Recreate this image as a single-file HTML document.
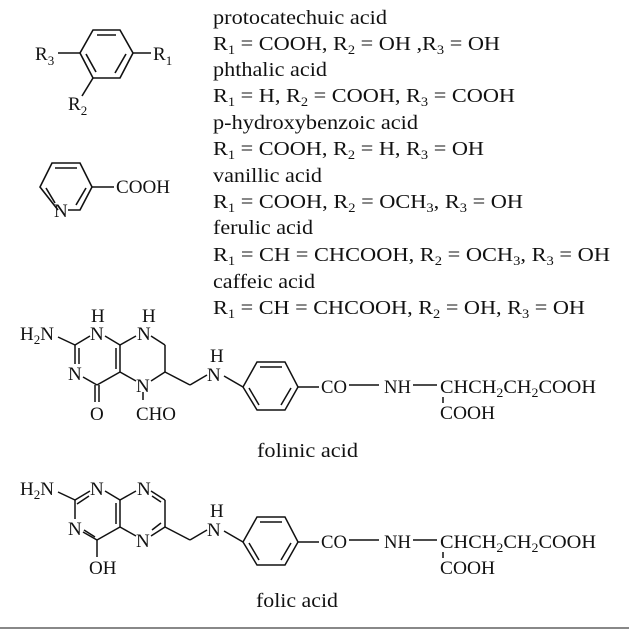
<!DOCTYPE html>
<html><head><meta charset="utf-8"><style>
html,body{margin:0;padding:0;background:#fff}
svg{display:block}
text{font-family:"Liberation Serif",serif;fill:#111}
</style></head><body>
<svg width="629" height="629" viewBox="0 0 629 629" xmlns="http://www.w3.org/2000/svg">
<g stroke="#111" stroke-width="1.6" fill="none">
<polygon points="93,30 120,30 133,53 120,78 93,78 80,53"/>
<line x1="97" y1="35" x2="116" y2="35"/>
<line x1="126" y1="54" x2="115" y2="73"/>
<line x1="86" y1="54" x2="96" y2="72"/>
<line x1="133" y1="53" x2="151" y2="53"/>
<line x1="58" y1="53" x2="80" y2="53"/>
<line x1="93" y1="78" x2="82" y2="96"/>
<polyline points="58,210 40,187 52,163 80,163 92,187 80,210 68,210"/>
<line x1="55" y1="168" x2="77" y2="168"/>
<line x1="86" y1="188" x2="76" y2="205"/>
<line x1="46" y1="188" x2="55" y2="203"/>
<line x1="92" y1="187" x2="114" y2="187"/>
</g>
<g font-size="19">
<text x="35" y="60">R<tspan font-size="13" dy="5">3</tspan></text>
<text x="153" y="60">R<tspan font-size="13" dy="5">1</tspan></text>
<text x="68" y="110">R<tspan font-size="13" dy="5">2</tspan></text>
<text x="54" y="217">N</text>
<text x="116" y="193" textLength="54" lengthAdjust="spacingAndGlyphs">COOH</text>
</g>
<g font-size="20">
<text x="213" y="24" textLength="174" lengthAdjust="spacingAndGlyphs">protocatechuic acid</text>
<text x="213" y="50" textLength="287" lengthAdjust="spacingAndGlyphs">R<tspan font-size="13" dy="4">1</tspan><tspan dy="-4"> = COOH, R</tspan><tspan font-size="13" dy="4">2</tspan><tspan dy="-4"> = OH ,R</tspan><tspan font-size="13" dy="4">3</tspan><tspan dy="-4"> = OH</tspan></text>
<text x="213" y="76" textLength="114" lengthAdjust="spacingAndGlyphs">phthalic acid</text>
<text x="213" y="102" textLength="302" lengthAdjust="spacingAndGlyphs">R<tspan font-size="13" dy="4">1</tspan><tspan dy="-4"> = H, R</tspan><tspan font-size="13" dy="4">2</tspan><tspan dy="-4"> = COOH, R</tspan><tspan font-size="13" dy="4">3</tspan><tspan dy="-4"> = COOH</tspan></text>
<text x="213" y="129" textLength="205" lengthAdjust="spacingAndGlyphs">p-hydroxybenzoic acid</text>
<text x="213" y="155" textLength="271" lengthAdjust="spacingAndGlyphs">R<tspan font-size="13" dy="4">1</tspan><tspan dy="-4"> = COOH, R</tspan><tspan font-size="13" dy="4">2</tspan><tspan dy="-4"> = H, R</tspan><tspan font-size="13" dy="4">3</tspan><tspan dy="-4"> = OH</tspan></text>
<text x="213" y="182" textLength="109" lengthAdjust="spacingAndGlyphs">vanillic acid</text>
<text x="213" y="208" textLength="310" lengthAdjust="spacingAndGlyphs">R<tspan font-size="13" dy="4">1</tspan><tspan dy="-4"> = COOH, R</tspan><tspan font-size="13" dy="4">2</tspan><tspan dy="-4"> = OCH</tspan><tspan font-size="13" dy="4">3</tspan><tspan dy="-4">, R</tspan><tspan font-size="13" dy="4">3</tspan><tspan dy="-4"> = OH</tspan></text>
<text x="213" y="234" textLength="100" lengthAdjust="spacingAndGlyphs">ferulic acid</text>
<text x="213" y="261" textLength="397" lengthAdjust="spacingAndGlyphs">R<tspan font-size="13" dy="4">1</tspan><tspan dy="-4"> = CH = CHCOOH, R</tspan><tspan font-size="13" dy="4">2</tspan><tspan dy="-4"> = OCH</tspan><tspan font-size="13" dy="4">3</tspan><tspan dy="-4">, R</tspan><tspan font-size="13" dy="4">3</tspan><tspan dy="-4"> = OH</tspan></text>
<text x="213" y="288" textLength="102" lengthAdjust="spacingAndGlyphs">caffeic acid</text>
<text x="213" y="314" textLength="372" lengthAdjust="spacingAndGlyphs">R<tspan font-size="13" dy="4">1</tspan><tspan dy="-4"> = CH = CHCOOH, R</tspan><tspan font-size="13" dy="4">2</tspan><tspan dy="-4"> = OH, R</tspan><tspan font-size="13" dy="4">3</tspan><tspan dy="-4"> = OH</tspan></text>
</g>
<g stroke="#111" stroke-width="1.5" fill="none">
<line x1="58" y1="337" x2="75" y2="345"/>
<line x1="75" y1="345" x2="90" y2="336"/>
<line x1="105" y1="336" x2="120" y2="345"/>
<line x1="120" y1="345" x2="136" y2="336"/>
<line x1="151" y1="336" x2="165" y2="345"/>
<line x1="165" y1="345" x2="165" y2="372"/>
<line x1="165" y1="372" x2="151" y2="381"/>
<line x1="136" y1="381" x2="120" y2="372"/>
<line x1="120" y1="345" x2="120" y2="372"/>
<line x1="116" y1="348" x2="116" y2="369"/>
<line x1="120" y1="372" x2="97" y2="385"/>
<line x1="97" y1="385" x2="83" y2="377"/>
<line x1="75" y1="345" x2="75" y2="364"/>
<line x1="79" y1="348" x2="79" y2="364"/>
<line x1="95" y1="385" x2="95" y2="402"/>
<line x1="99" y1="385" x2="99" y2="402"/>
<line x1="143" y1="392" x2="143" y2="400"/>
<line x1="165" y1="372" x2="190" y2="385"/>
<line x1="190" y1="385" x2="207" y2="375"/>
<line x1="224" y1="376" x2="243" y2="387"/>
<polygon points="243,387 257,362 285,362 298,387 285,410 257,410"/>
<line x1="260" y1="367" x2="282" y2="367"/>
<line x1="291" y1="388" x2="281" y2="405"/>
<line x1="249" y1="388" x2="259" y2="405"/>
<line x1="298" y1="387" x2="319" y2="387"/>
<line x1="349" y1="385" x2="379" y2="385"/>
<line x1="413" y1="385" x2="437" y2="385"/>
<line x1="443" y1="397" x2="443" y2="403"/>
</g>
<g font-size="19">
<text x="20" y="340">H<tspan font-size="13" dy="4">2</tspan><tspan dy="-4">N</tspan></text>
<text x="91" y="322">H</text><text x="90" y="340">N</text>
<text x="142" y="322">H</text><text x="137" y="340">N</text>
<text x="68" y="380">N</text>
<text x="136" y="392">N</text>
<text x="90" y="420">O</text>
<text x="136" y="420" textLength="40" lengthAdjust="spacingAndGlyphs">CHO</text>
<text x="210" y="362">H</text><text x="207" y="381">N</text>
<text x="321" y="393" textLength="26" lengthAdjust="spacingAndGlyphs">CO</text>
<text x="384" y="393" textLength="27" lengthAdjust="spacingAndGlyphs">NH</text>
<text x="440" y="393" textLength="156" lengthAdjust="spacingAndGlyphs">CHCH<tspan font-size="13" dy="4">2</tspan><tspan dy="-4">CH</tspan><tspan font-size="13" dy="4">2</tspan><tspan dy="-4">COOH</tspan></text>
<text x="440" y="419" textLength="55" lengthAdjust="spacingAndGlyphs">COOH</text>
<text x="257" y="457" font-size="20" textLength="101" lengthAdjust="spacingAndGlyphs">folinic acid</text>
</g>
<g stroke="#111" stroke-width="1.5" fill="none">
<line x1="58" y1="492" x2="75" y2="500"/>
<line x1="75" y1="500" x2="90" y2="491"/>
<line x1="77" y1="504" x2="89" y2="496"/>
<line x1="105" y1="491" x2="120" y2="500"/>
<line x1="120" y1="500" x2="136" y2="491"/>
<line x1="151" y1="491" x2="165" y2="500"/>
<line x1="152" y1="496" x2="161" y2="502"/>
<line x1="165" y1="500" x2="165" y2="527"/>
<line x1="165" y1="527" x2="151" y2="536"/>
<line x1="161" y1="523" x2="152" y2="530"/>
<line x1="136" y1="536" x2="120" y2="527"/>
<line x1="120" y1="500" x2="120" y2="527"/>
<line x1="116" y1="503" x2="116" y2="524"/>
<line x1="120" y1="527" x2="97" y2="540"/>
<line x1="97" y1="540" x2="83" y2="532"/>
<line x1="95" y1="537" x2="84" y2="530"/>
<line x1="75" y1="500" x2="75" y2="519"/>
<line x1="97" y1="540" x2="97" y2="557"/>
<line x1="165" y1="527" x2="190" y2="540"/>
<line x1="190" y1="540" x2="207" y2="530"/>
<line x1="224" y1="531" x2="243" y2="542"/>
<polygon points="243,542 257,517 285,517 298,542 285,565 257,565"/>
<line x1="260" y1="522" x2="282" y2="522"/>
<line x1="291" y1="543" x2="281" y2="560"/>
<line x1="249" y1="543" x2="259" y2="560"/>
<line x1="298" y1="542" x2="319" y2="542"/>
<line x1="349" y1="540" x2="379" y2="540"/>
<line x1="413" y1="540" x2="437" y2="540"/>
<line x1="443" y1="552" x2="443" y2="558"/>
</g>
<g font-size="19">
<text x="20" y="495">H<tspan font-size="13" dy="4">2</tspan><tspan dy="-4">N</tspan></text>
<text x="90" y="495">N</text>
<text x="137" y="495">N</text>
<text x="68" y="535">N</text>
<text x="136" y="547">N</text>
<text x="89" y="574">OH</text>
<text x="210" y="517">H</text><text x="207" y="536">N</text>
<text x="321" y="548" textLength="26" lengthAdjust="spacingAndGlyphs">CO</text>
<text x="384" y="548" textLength="27" lengthAdjust="spacingAndGlyphs">NH</text>
<text x="440" y="548" textLength="156" lengthAdjust="spacingAndGlyphs">CHCH<tspan font-size="13" dy="4">2</tspan><tspan dy="-4">CH</tspan><tspan font-size="13" dy="4">2</tspan><tspan dy="-4">COOH</tspan></text>
<text x="440" y="574" textLength="55" lengthAdjust="spacingAndGlyphs">COOH</text>
<text x="256" y="607" font-size="20" textLength="82" lengthAdjust="spacingAndGlyphs">folic acid</text>
</g>
<rect x="0" y="627" width="629" height="2" fill="#888"/>
</svg>
</body></html>
